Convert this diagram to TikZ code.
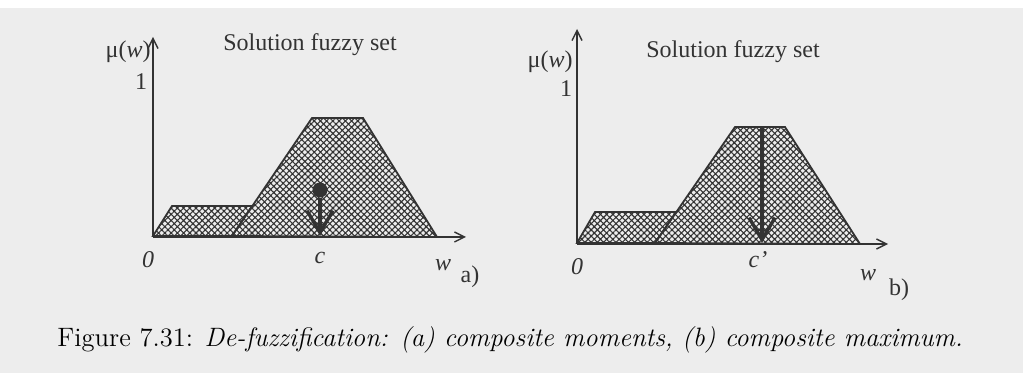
\documentclass[tikz,border=0pt]{standalone}
\usepackage{fontspec}
\usepackage{tikz}
\usetikzlibrary{arrows.meta,patterns.meta}
\newfontfamily\labelfont{Liberation Serif}
\definecolor{ink}{HTML}{333333}
\definecolor{paper}{HTML}{EDEDED}

\tikzset{
  axis/.style={draw=ink,line width=0.7pt,-{Straight Barb[length=5pt,width=5pt]}},
  fuzzyset/.style={draw=ink,line width=0.9pt,pattern={Hatch[angle=45,distance=2.2pt,line width=0.55pt]},pattern color=ink},
  lbl/.style={font=\labelfont\fontsize{12}{14}\selectfont,text=ink,inner sep=0pt},
  dot/.style={circle,fill=ink,inner sep=0pt,minimum size=7.5pt},
  defuzz/.style={draw=ink,line width=1.7pt,-{Straight Barb[length=11pt,width=13pt,line width=1.7pt]}},
}

\begin{document}
\begin{tikzpicture}[x=0.5pt,y=-0.5pt]
  \useasboundingbox (0,0) rectangle (1023,373);
  \fill[paper] (0,8) rectangle (1023,373);

  % a) composite moments
  \draw[fuzzyset] (153,236) -- (172,206) -- (252,206) -- (232,236) -- cycle;
  \draw[fuzzyset] (232,236) -- (312,118) -- (363,118) -- (437,237) -- cycle;
  \coordinate (aorigin) at (153,237);
  \coordinate (aytip) at (153,37);
  \coordinate (axtip) at (466,237);
  \draw[axis] (aorigin) -- (aytip);
  \draw[axis] (aorigin) -- (axtip);
  \node[dot] (acentroid) at (320,190) {};
  \coordinate (ac) at (320,236);
  \draw[defuzz] (acentroid) -- (ac);
  \node[lbl,anchor=east] (amu) at (151,52) {μ(\textit{w})};
  \node[lbl] (aone) at (141,82) {1};
  \node[lbl] (atitle) at (310,45) {Solution fuzzy set};
  \node[lbl] (azero) at (148,260) {\textit{0}};
  \node[lbl] (aclabel) at (320,258) {\textit{c}};
  \node[lbl] (aw) at (443,265) {\textit{w}};
  \node[lbl] (atag) at (470,277) {a)};

  % b) composite maximum
  \draw[fuzzyset] (577,243) -- (595,212) -- (676,212) -- (655,243) -- cycle;
  \draw[fuzzyset] (655,243) -- (735,127) -- (785,127) -- (860,244) -- cycle;
  \coordinate (borigin) at (577,244);
  \coordinate (bytip) at (577,29);
  \coordinate (bxtip) at (888,244);
  \draw[axis] (borigin) -- (bytip);
  \draw[axis] (borigin) -- (bxtip);
  \coordinate (bpeak) at (762,127);
  \coordinate (bc) at (762,243);
  \draw[defuzz] (bpeak) -- (bc);
  \node[lbl,anchor=east] (bmu) at (573,62) {μ(\textit{w})};
  \node[lbl] (bone) at (566,89) {1};
  \node[lbl] (btitle) at (733,52) {Solution fuzzy set};
  \node[lbl] (bzero) at (577,267) {\textit{0}};
  \node[lbl] (bclabel) at (758,260) {\textit{c’}};
  \node[lbl] (bw) at (868,275) {\textit{w}};
  \node[lbl] (btag) at (899,290) {b)};

  \node[anchor=base west,inner sep=0pt,font=\fontsize{13.3}{16}\selectfont] (caption) at (57,347)
    {Figure 7.31: \textit{De-fuzzification: (a) composite moments, (b) composite maximum.}};
\end{tikzpicture}
\end{document}
